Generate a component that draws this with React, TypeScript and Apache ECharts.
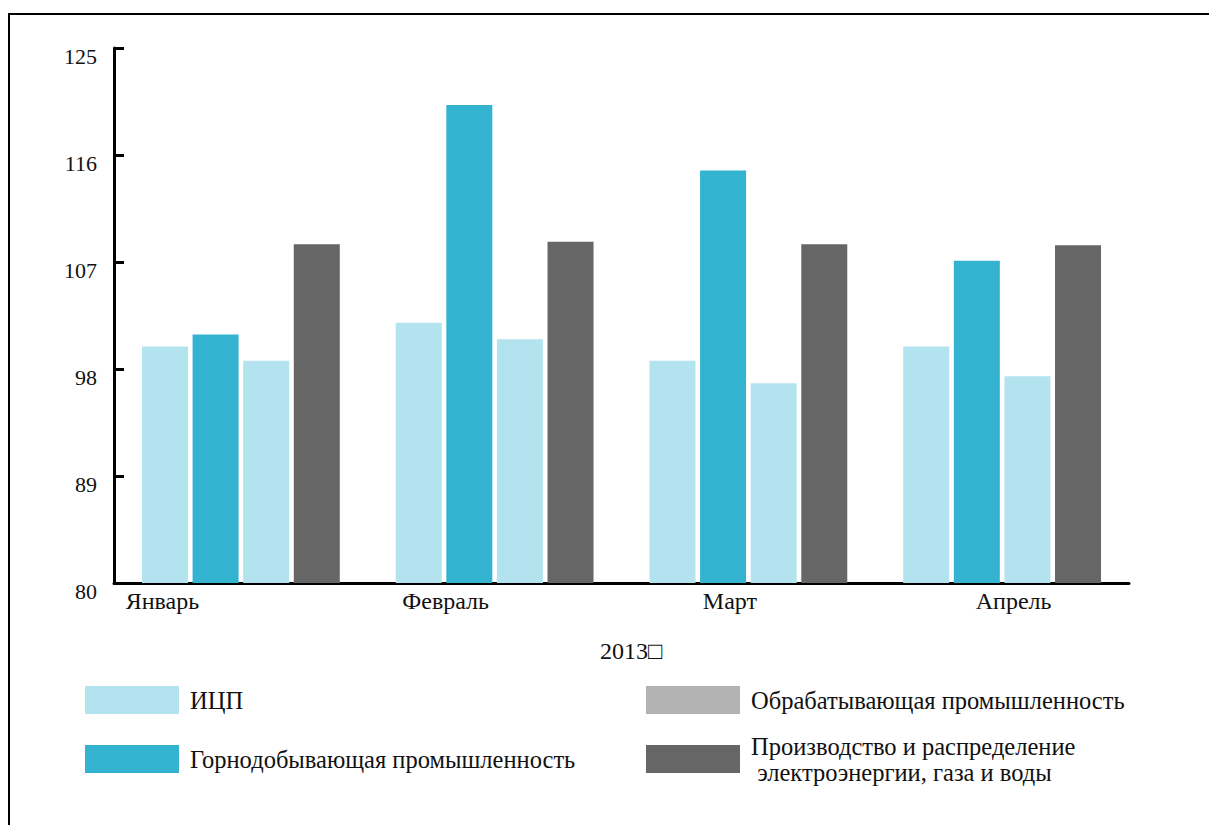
import React, { useEffect, useRef } from "react";
import * as echarts from "echarts";

const months = ["Январь", "Февраль", "Март", "Апрель"];
const seriesNames = [
  "ИЦП",
  "Горнодобывающая промышленность",
  "Обрабатывающая промышленность",
  "Производство и распределение\n электроэнергии, газа и воды",
];
const cpi = [99.9, 101.9, 98.7, 99.9];
const mining = [100.9, 120.2, 114.7, 107.1];
const manufacturing = [98.7, 100.5, 96.8, 97.4];
const utilities = [108.5, 108.7, 108.5, 108.4];
const yMin = 80;
const yMax = 125;
const yStep = 9;
const xAxisTitle = "2013\u25A1";

const FONT = '"Liberation Serif", "DejaVu Serif", serif';
const LIGHT = "#b3e3ee";
const TEAL = "#33b3d0";
const GRAY = "#b3b3b3";
const DARK = "#666666";

// per-label horizontal shift (padding) so labels sit where the reference shows them
const labelPads = [
  [0, 157, 0, 0],
  [0, 98, 0, 0],
  [0, 37, 0, 0],
  [0, 0, 0, 23],
];

export default function App() {
  const ref = useRef<HTMLDivElement>(null);
  useEffect(() => {
    document.body.style.margin = "0";
    document.body.style.overflow = "hidden";
    const chart = echarts.init(ref.current!, undefined, { renderer: "svg" });
    const legendBase = {
      orient: "vertical",
      padding: 0,
      icon: "rect",
      itemWidth: 94,
      itemHeight: 28,
      selectedMode: false,
      textStyle: {
        fontFamily: FONT,
        fontSize: 24.5,
        color: "#111",
        padding: [0, 0, 0, 6],
        lineHeight: 26,
      },
    };
    const seriesData = [cpi, mining, manufacturing, utilities];
    const colors = [LIGHT, TEAL, LIGHT, DARK];
    chart.setOption({
      animation: false,
      backgroundColor: "#ffffff",
      grid: { left: 114, right: 80, top: 48, bottom: 242, containLabel: false },
      title: {
        text: xAxisTitle,
        left: 600,
        top: 639,
        padding: 0,
        textStyle: { fontFamily: FONT, fontSize: 24, fontWeight: "normal", color: "#111" },
      },
      legend: [
        { ...legendBase, left: 85, top: 686, data: [{ name: seriesNames[0] }] },
        { ...legendBase, left: 85, top: 745, data: [{ name: seriesNames[1] }] },
        { ...legendBase, left: 646, top: 686, data: [{ name: seriesNames[2], itemStyle: { color: GRAY } }] },
        { ...legendBase, left: 646, top: 733, data: [{ name: seriesNames[3] }] },
      ],
      xAxis: {
        type: "category",
        data: months.map((m, i) => ({ value: m, textStyle: { padding: labelPads[i] } })),
        axisLine: { lineStyle: { color: "#000", width: 3 } },
        axisTick: { inside: true, length: 9, lineStyle: { color: "#000", width: 2 } },
        axisLabel: { fontFamily: FONT, fontSize: 24, color: "#111", margin: 6 },
        splitLine: { show: false },
      },
      yAxis: {
        type: "value",
        min: yMin,
        max: yMax,
        interval: yStep,
        axisLine: { show: true, lineStyle: { color: "#000", width: 3 } },
        axisTick: { show: true, inside: true, length: 10, lineStyle: { color: "#000", width: 3 } },
        axisLabel: {
          fontFamily: FONT,
          fontSize: 22,
          color: "#111",
          margin: 17,
          verticalAlign: "top",
          lineHeight: 16,
        },
        splitLine: { show: false },
      },
      graphic: [
        {
          type: "rect",
          z: -10,
          shape: { x: 9, y: 14, width: 1400, height: 1000 },
          style: { fill: "none", stroke: "#000", lineWidth: 2 },
          silent: true,
        },
      ],
      series: seriesNames.map((name, i) => ({
        name,
        type: "bar",
        data: seriesData[i],
        barWidth: 46,
        barGap: "10%",
        itemStyle: { color: colors[i] },
      })),
    });
    return () => chart.dispose();
  }, []);
  return <div ref={ref} style={{ width: 1209, height: 825 }} />;
}
